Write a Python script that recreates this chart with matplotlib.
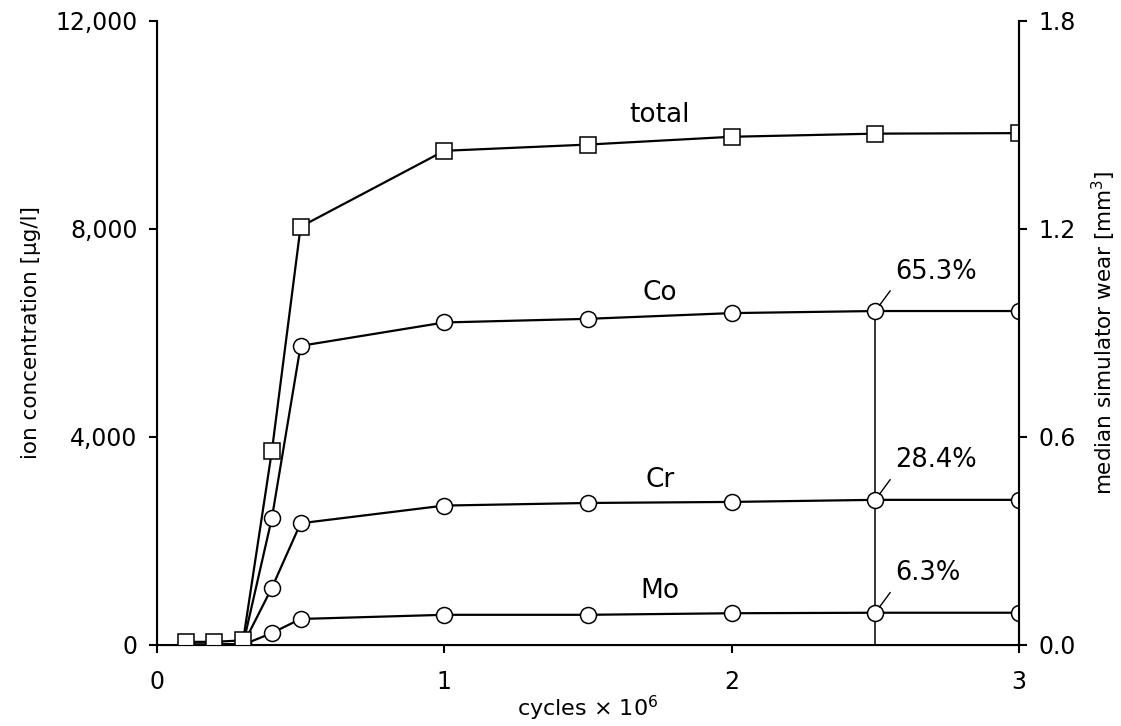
import matplotlib
matplotlib.use("Agg")
import matplotlib.pyplot as plt
from matplotlib.ticker import FuncFormatter, FormatStrFormatter

# cycles x 10^6
cycles = [0.1, 0.2, 0.3, 0.4, 0.5, 1.0, 1.5, 2.0, 2.5, 3.0]

# ion concentration [ug/l]
total = [60, 60, 90, 3730, 8040, 9500, 9620, 9770, 9830, 9840]
co = [10, 10, 20, 2440, 5750, 6200, 6270, 6380, 6420, 6420]
cr = [5, 5, 10, 1100, 2340, 2680, 2730, 2750, 2790, 2790]
mo = [0, 0, 5, 230, 500, 580, 580, 610, 620, 620]

series_names = ["total", "Co", "Cr", "Mo"]
label_pos = [(1.75, 10190), (1.75, 6770), (1.75, 3170), (1.75, 1040)]
shares = ["65.3%", "28.4%", "6.3%"]

plt.rcParams['font.family'] = ['DejaVu Sans']

fig = plt.figure(figsize=(11.21, 7.26), dpi=100)
ax = fig.add_axes([0.140, 0.1116, 0.769, 0.8598])

# vertical marker line at 2.5 million cycles
ax.plot([2.5, 2.5], [0, co[8]], color='black', lw=1.1, zorder=1)

line_kw = dict(color='black', lw=1.6, markerfacecolor='white',
               markeredgecolor='black', markeredgewidth=1.1, zorder=3)
ax.plot(cycles, mo, marker='o', ms=11.5, **line_kw)
ax.plot(cycles, cr, marker='o', ms=11.5, **line_kw)
ax.plot(cycles, co, marker='o', ms=11.5, **line_kw)
ax.plot(cycles, total, marker='s', ms=12, **line_kw)

for name, (lx, ly) in zip(series_names, label_pos):
    ax.text(lx, ly, name, ha='center', va='center', fontsize=19)

# percentage annotations at 2.5 million cycles
for val, txt in zip([co[8], cr[8], mo[8]], shares):
    ax.annotate(txt, xy=(2.5, val), xytext=(14, 19), textcoords='offset points',
                ha='left', va='bottom', fontsize=18.5,
                arrowprops=dict(arrowstyle='-', color='black', lw=1.0,
                                relpos=(0, 0), shrinkA=3, shrinkB=5))

ax.set_xlim(0, 3)
ax.set_ylim(0, 12000)
ax.set_xticks([0, 1, 2, 3])
ax.set_yticks([0, 4000, 8000, 12000])
ax.yaxis.set_major_formatter(FuncFormatter(lambda v, p: f"{int(v):,}"))
ax.spines['top'].set_visible(False)
for s in ['left', 'bottom', 'right']:
    ax.spines[s].set_linewidth(1.5)
ax.tick_params(axis='y', direction='out', length=6, width=1.5, labelsize=17, pad=8)
ax.tick_params(axis='x', direction='out', length=6, width=1.5, labelsize=17, pad=12)
ax.set_xlabel("cycles × 10$^6$", fontsize=16, labelpad=0)
ax.set_ylabel("ion concentration [µg/l]", fontsize=15.5, labelpad=10)

ax2 = ax.twinx()
ax2.set_ylim(0, 1.8)
ax2.set_yticks([0, 0.6, 1.2, 1.8])
ax2.yaxis.set_major_formatter(FormatStrFormatter('%.1f'))
ax2.spines['top'].set_visible(False)
ax2.spines['right'].set_linewidth(1.5)
ax2.tick_params(axis='y', direction='out', length=6, width=1.5, labelsize=17, pad=8)
ax2.set_ylabel("median simulator wear [mm$^3$]", fontsize=15.5, labelpad=10)

fig.savefig("out.png", dpi=100)
